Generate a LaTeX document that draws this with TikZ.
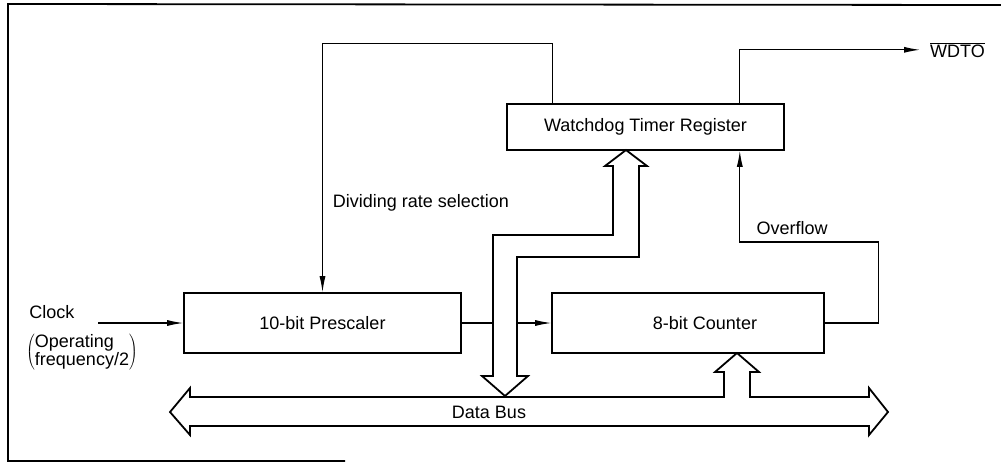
\documentclass[tikz,border=0pt]{standalone}
\usepackage{fontspec}
\setmainfont{Liberation Sans}
\usetikzlibrary{arrows.meta}
\begin{document}
\begin{tikzpicture}[x=1pt,y=-1pt,
  blk/.style={draw,line width=1.6pt,inner sep=0pt,font=\fontsize{18}{21}\selectfont},
  lbl/.style={inner sep=0pt,font=\fontsize{18}{21}\selectfont},
  conn/.style={line width=1.1pt,-{Latex[length=16pt,width=6pt]}},
  busl/.style={line width=1.8pt,fill=white,line join=miter},
  frame/.style={line width=1.8pt}]
\useasboundingbox (0,0) rectangle (1001,463);
% frame
\draw[frame] (1001,5) -- (8,4) -- (8,461) -- (345,461);
% blocks
\node[blk,minimum width=277pt,minimum height=46pt] (wdt) at (645.5,127) {Watchdog Timer Register};
\node[blk,minimum width=277pt,minimum height=60pt] (pre) at (322.5,323) {10-bit Prescaler};
\node[blk,minimum width=272pt,minimum height=60pt] (cnt) at (688,323) {\hspace*{34pt}8-bit Counter};
% labels
\node[lbl] (drs) at (421,203) {Dividing rate selection};
\node[lbl] (ovf) at (792,228) {Overflow};
\node[lbl,anchor=base west] (wdto) at (930,57) {$\overline{\hbox{WDTO}}$};
\node[lbl] (clk) at (52,312) {Clock};
\node[lbl] (opf) at (82,352) {$\left(\renewcommand\arraystretch{0.75}\begin{tabular}{@{}l@{}}Operating\\frequency/2\end{tabular}\right)$};
\coordinate (clkin) at (98,323);
% connectors
\draw[conn] ([xshift=46pt]wdt.north west) -- ++(0,-60) -| (pre.north);
\draw[conn] ([xshift=-45pt]wdt.north east) |- ([xshift=-10pt]wdto.west);
\draw[conn] (clkin) -- (pre.west);
\draw[conn] (pre.east) -- (cnt.west);
\draw[conn] (cnt.east) -- ++(54,0) -- ++(0,-81) -| ([xshift=-45pt]wdt.south east);
% data bus
\draw[busl] (190,397) -- (724,397) -- (724,372) -- (715,372) -- (737,353) -- (759,372)
  -- (750,372) -- (750,397) -- (869,397) -- (869,388) -- (888,412) -- (869,435)
  -- (869,426) -- (190,426) -- (190,435) -- (170,412) -- (190,388) -- cycle;
\draw[busl] (626,150) -- (647,166) -- (639,166) -- (639,257) -- (517,257) -- (517,376)
  -- (528,376) -- (505,396) -- (482,376) -- (493,376) -- (493,235) -- (613,235)
  -- (613,166) -- (605,166) -- cycle;
\node[lbl] (dbus) at (489,412) {Data Bus};
\end{tikzpicture}
\end{document}
